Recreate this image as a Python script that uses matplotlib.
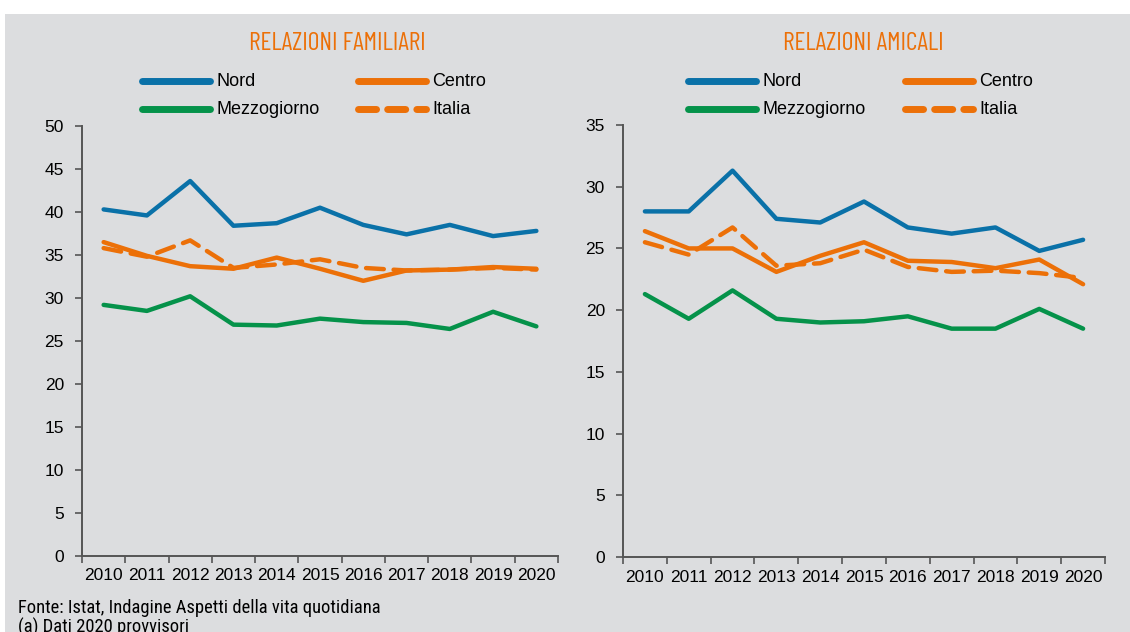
import matplotlib
matplotlib.use("Agg")
import matplotlib.pyplot as plt
from matplotlib.lines import Line2D
import numpy as np

years = ["2010", "2011", "2012", "2013", "2014", "2015", "2016", "2017", "2018", "2019", "2020"]

fam_nord = [40.3, 39.6, 43.6, 38.4, 38.7, 40.5, 38.5, 37.4, 38.5, 37.2, 37.8]
fam_centro = [36.5, 34.9, 33.7, 33.4, 34.7, 33.4, 32.0, 33.2, 33.3, 33.6, 33.4]
fam_mezzo = [29.2, 28.5, 30.2, 26.9, 26.8, 27.6, 27.2, 27.1, 26.4, 28.4, 26.7]
fam_italia = [35.8, 34.8, 36.7, 33.5, 33.9, 34.5, 33.5, 33.2, 33.3, 33.5, 33.3]

ami_nord = [28.0, 28.0, 31.3, 27.4, 27.1, 28.8, 26.7, 26.2, 26.7, 24.8, 25.7]
ami_centro = [26.4, 25.0, 25.0, 23.1, 24.4, 25.5, 24.0, 23.9, 23.4, 24.1, 22.1]
ami_mezzo = [21.3, 19.3, 21.6, 19.3, 19.0, 19.1, 19.5, 18.5, 18.5, 20.1, 18.5]
ami_italia = [25.5, 24.5, 26.7, 23.6, 23.8, 24.9, 23.5, 23.1, 23.2, 23.0, 22.6]

titles = ["RELAZIONI FAMILIARI", "RELAZIONI AMICALI"]
series_names = ["Nord", "Centro", "Mezzogiorno", "Italia"]

BLUE = "#0a71a8"
ORANGE = "#ec7008"
GREEN = "#05924a"
BG = "#dcdddf"
AX = "#555555"

plt.rcParams['font.family'] = ['Liberation Sans', 'DejaVu Sans']
TITLE_FONT = ['Barlow Condensed', 'DejaVu Sans']
NARROW_FONT = ['Roboto Condensed', 'Liberation Sans', 'DejaVu Sans']

W, H = 1130, 632
fig = plt.figure(figsize=(W / 100, H / 100), dpi=100)
fig.patch.set_facecolor("white")
bg = plt.Rectangle((5 / W, 0), 1 - 5 / W, 1 - 14 / H, transform=fig.transFigure,
                   facecolor=BG, edgecolor="none", zorder=-10)
fig.patches.append(bg)


def rect(x0, x1, y0, y1):
    return [x0 / W, 1 - y1 / H, (x1 - x0) / W, (y1 - y0) / H]


axes_specs = [
    (rect(82, 558, 126, 556), 50, [fam_nord, fam_centro, fam_mezzo, fam_italia], 337),
    (rect(623, 1105, 125, 557), 35, [ami_nord, ami_centro, ami_mezzo, ami_italia], 863),
]

x = np.arange(len(years))
for (r, ymax, data, tcx), title in zip(axes_specs, titles):
    ax = fig.add_axes(r)
    ax.set_facecolor("none")
    nord, centro, mezzo, italia = data
    lw = 3.2
    ax.plot(x, nord, color=BLUE, lw=lw, solid_capstyle="round", solid_joinstyle="round")
    ax.plot(x, mezzo, color=GREEN, lw=lw, solid_capstyle="round", solid_joinstyle="round")
    ax.plot(x, centro, color=ORANGE, lw=lw, solid_capstyle="round", solid_joinstyle="round")
    ax.plot(x, italia, color=ORANGE, lw=lw, dashes=(4, 2.2), dash_capstyle="round")
    ax.set_xlim(-0.5, len(years) - 0.5)
    ax.set_ylim(0, ymax)
    ax.set_yticks(np.arange(0, ymax + 1, 5))
    ax.set_xticks(x)
    ax.set_xticklabels(years)
    ax.set_xticks(np.arange(-0.5, len(years), 1), minor=True)
    ax.tick_params(axis="x", which="major", length=0, pad=9, labelsize=12.5, colors="black")
    ax.tick_params(axis="x", which="minor", length=5, color=AX, width=1.2, direction="out")
    ax.tick_params(axis="y", length=5, color=AX, width=1.2, labelsize=12.5, pad=8)
    for s in ["top", "right"]:
        ax.spines[s].set_visible(False)
    for s in ["left", "bottom"]:
        ax.spines[s].set_color(AX)
        ax.spines[s].set_linewidth(1.4)
    fig.text(tcx / W, 1 - 43 / H, title, color=ORANGE, fontsize=18.5, family=TITLE_FONT,
             ha="center", va="center")


def legend_at(xl, xr, yrow1, yrow2):
    items = [
        (xl, yrow1, BLUE, "-", series_names[0]),
        (xr, yrow1, ORANGE, "-", series_names[1]),
        (xl, yrow2, GREEN, "-", series_names[2]),
        (xr, yrow2, ORANGE, "--", series_names[3]),
    ]
    for x0, yy, c, ls, lab in items:
        ln = Line2D([x0 / W, (x0 + 68) / W], [1 - yy / H, 1 - yy / H], transform=fig.transFigure,
                    color=c, lw=5, solid_capstyle="round")
        if ls == "--":
            ln.set_dashes((2.6, 1.6))
            ln.set_dash_capstyle("round")
        fig.lines.append(ln)
        fig.text((x0 + 74) / W, 1 - (yy + 1) / H, lab, fontsize=13, ha="left", va="center")


legend_at(142, 358, 81, 109)
legend_at(688, 905, 81, 109)

fig.text(18 / W, 1 - 608 / H, "Fonte: Istat, Indagine Aspetti della vita quotidiana", fontsize=13.3,
         family=NARROW_FONT, ha="left", va="center")
fig.text(18 / W, 1 - 627 / H, "(a) Dati 2020 provvisori", fontsize=13.3,
         family=NARROW_FONT, ha="left", va="center")

fig.savefig("out.png", dpi=100, facecolor=fig.get_facecolor())
